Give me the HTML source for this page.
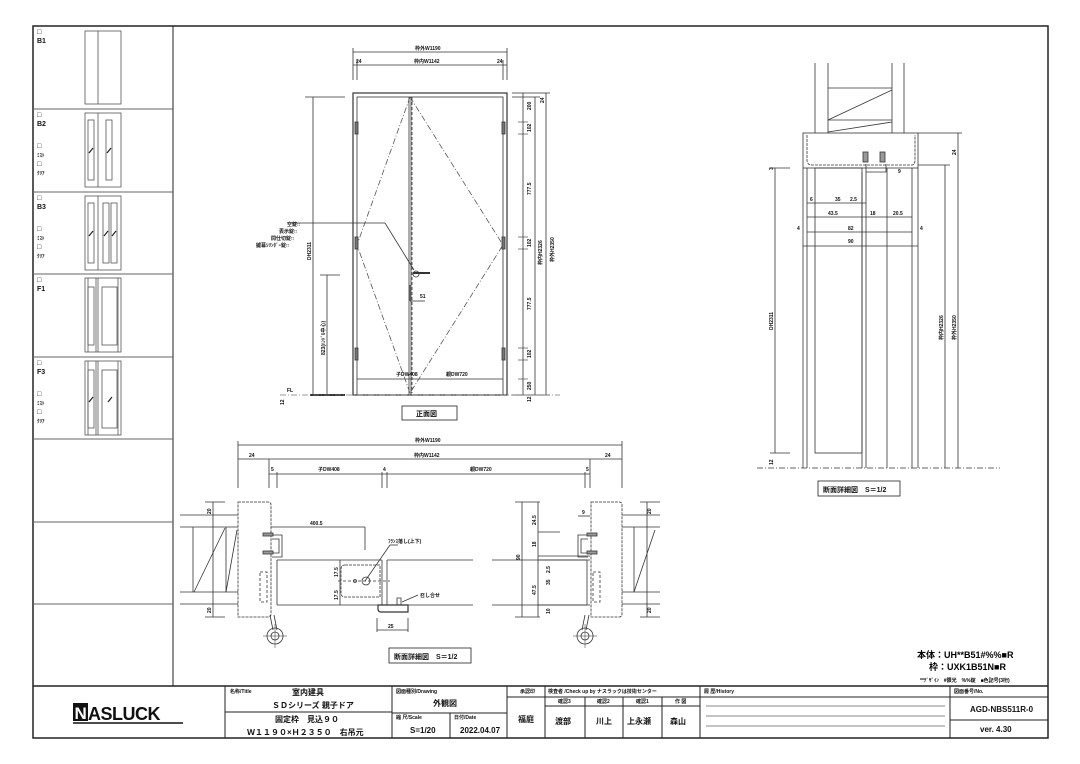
<!DOCTYPE html>
<html><head><meta charset="utf-8"><style>
html,body{margin:0;padding:0;background:#fff;}
svg{display:block;font-family:"Liberation Sans","Noto Sans CJK JP",sans-serif;}
.t{font-size:7px;fill:#111;font-weight:bold;}
.s{font-size:5px;fill:#111;font-weight:bold;}
</style></head><body>
<svg width="1080" height="764" viewBox="0 0 1080 764" xmlns="http://www.w3.org/2000/svg">
<rect width="1080" height="764" fill="#fff"/>
<g fill="none" stroke="#222">
<rect x="33" y="26" width="1015" height="712" stroke-width="1.5"/>
<line x1="173" y1="26" x2="173" y2="686"/>
<line x1="33" y1="686" x2="1048" y2="686" stroke-width="1.5"/>
<g stroke="#666">
<line x1="33" y1="109" x2="173" y2="109"/><line x1="33" y1="192" x2="173" y2="192"/>
<line x1="33" y1="274" x2="173" y2="274"/><line x1="33" y1="357" x2="173" y2="357"/>
<line x1="33" y1="439" x2="173" y2="439"/><line x1="33" y1="522" x2="173" y2="522"/>
<line x1="33" y1="604" x2="173" y2="604"/>
</g>
<line x1="225" y1="686" x2="225" y2="738"/>
<line x1="392" y1="686" x2="392" y2="738"/>
<line x1="507" y1="686" x2="507" y2="738"/>
<line x1="545" y1="686" x2="545" y2="738"/>
<line x1="700" y1="686" x2="700" y2="738"/>
<line x1="950" y1="686" x2="950" y2="738"/>
<line x1="225" y1="712" x2="392" y2="712"/>
<line x1="392" y1="713" x2="507" y2="713"/>
<line x1="450" y1="713" x2="450" y2="738"/>
<line x1="507" y1="697" x2="545" y2="697"/>
<line x1="545" y1="697" x2="700" y2="697"/>
<line x1="545" y1="706" x2="700" y2="706"/>
<line x1="585" y1="697" x2="585" y2="738"/><line x1="623" y1="697" x2="623" y2="738"/><line x1="662" y1="697" x2="662" y2="738"/>
<line x1="700" y1="697" x2="950" y2="697"/>
<line x1="706" y1="706" x2="945" y2="706" stroke="#888"/><line x1="706" y1="716" x2="945" y2="716" stroke="#888"/><line x1="706" y1="726" x2="945" y2="726" stroke="#888"/>
<line x1="950" y1="697" x2="1048" y2="697"/><line x1="950" y1="720" x2="1048" y2="720"/>
</g>
<g fill="none" stroke="#555" stroke-width="0.8">
<rect x="85" y="31" width="36" height="73"/><line x1="98" y1="31" x2="98" y2="104"/>
<rect x="85" y="113" width="36" height="74"/><line x1="98" y1="113" x2="98" y2="187"/>
<rect x="88" y="120" width="6" height="60"/><rect x="106" y="120" width="6" height="60"/>
<rect x="85" y="196" width="36" height="74"/><line x1="98" y1="196" x2="98" y2="270"/>
<rect x="88" y="203" width="6" height="60"/><rect x="103" y="203" width="6" height="60"/><rect x="111" y="203" width="6" height="60"/>
<rect x="85" y="278" width="36" height="74"/><line x1="98" y1="278" x2="98" y2="352"/><line x1="96" y1="278" x2="96" y2="352"/><line x1="88" y1="278" x2="88" y2="352"/><line x1="118" y1="278" x2="118" y2="352"/>
<rect x="88" y="287" width="6" height="58"/><rect x="102" y="287" width="15" height="58"/>
<rect x="85" y="361" width="36" height="74"/><line x1="98" y1="361" x2="98" y2="435"/><line x1="96" y1="361" x2="96" y2="435"/><line x1="88" y1="361" x2="88" y2="435"/><line x1="118" y1="361" x2="118" y2="435"/>
<rect x="88" y="370" width="6" height="58"/><rect x="102" y="370" width="15" height="58"/>
</g>
<g stroke="#222" stroke-width="1.2">
<line x1="89" y1="153" x2="93" y2="148"/><line x1="107" y1="153" x2="111" y2="148"/>
<line x1="89" y1="236" x2="93" y2="231"/><line x1="104" y1="236" x2="108" y2="231"/><line x1="112" y1="236" x2="116" y2="231"/>
<line x1="89" y1="402" x2="93" y2="397"/><line x1="108" y1="402" x2="112" y2="397"/>
</g>
<g class="t">
<text x="37" y="34">□</text><text x="37" y="43">B1</text>
<text x="37" y="117">□</text><text x="37" y="126">B2</text><text x="37" y="148">□</text><text x="37" y="157" class="s">ﾐｽﾄ</text><text x="37" y="166">□</text><text x="37" y="175" class="s">ｸﾘｱ</text>
<text x="37" y="200">□</text><text x="37" y="209">B3</text><text x="37" y="231">□</text><text x="37" y="240" class="s">ﾐｽﾄ</text><text x="37" y="249">□</text><text x="37" y="258" class="s">ｸﾘｱ</text>
<text x="37" y="282">□</text><text x="37" y="291">F1</text>
<text x="37" y="365">□</text><text x="37" y="374">F3</text><text x="37" y="396">□</text><text x="37" y="405" class="s">ﾐｽﾄ</text><text x="37" y="414">□</text><text x="37" y="423" class="s">ｸﾘｱ</text>
</g>

<g fill="none" stroke="#333" stroke-width="0.8">
<rect x="353" y="93" width="154" height="302" stroke-width="1.2"/>
<rect x="357" y="97" width="146" height="298"/>
<line x1="409" y1="97" x2="409" y2="395"/><line x1="411" y1="97" x2="411" y2="395"/>
<line x1="357" y1="379" x2="503" y2="379"/>
<g stroke-dasharray="6,2,1,2" stroke="#555"><path d="M410 97 L357 245 L410 393 M410 97 L503 245 L410 393"/></g>
<line x1="412" y1="97" x2="412" y2="393" stroke-dasharray="3,2"/>
<rect x="355" y="122" width="3" height="12" fill="#777"/><rect x="355" y="237" width="3" height="12" fill="#777"/><rect x="355" y="348" width="3" height="12" fill="#777"/>
<rect x="502" y="122" width="3" height="12" fill="#777"/><rect x="502" y="237" width="3" height="12" fill="#777"/><rect x="502" y="348" width="3" height="12" fill="#777"/>
<path d="M413 273 L430 273" stroke-width="2"/>
<circle cx="416" cy="274" r="3"/>
<polyline points="292,223 385,223 414,270"/>
<line x1="353" y1="52" x2="507" y2="52"/><line x1="353" y1="65" x2="507" y2="65"/>
<line x1="353" y1="48" x2="353" y2="80"/><line x1="357" y1="60" x2="357" y2="80"/><line x1="503" y1="60" x2="503" y2="80"/><line x1="507" y1="48" x2="507" y2="80"/>
<line x1="523" y1="93" x2="523" y2="395"/><line x1="535" y1="97" x2="535" y2="395"/><line x1="546" y1="93" x2="546" y2="395"/>
<line x1="512" y1="93" x2="550" y2="93"/><line x1="512" y1="97" x2="540" y2="97"/><line x1="512" y1="395" x2="550" y2="395"/>
<g stroke-width="0.6"><line x1="518" y1="122" x2="528" y2="122"/><line x1="518" y1="134" x2="528" y2="134"/><line x1="518" y1="237" x2="528" y2="237"/><line x1="518" y1="249" x2="528" y2="249"/><line x1="518" y1="348" x2="528" y2="348"/><line x1="518" y1="360" x2="528" y2="360"/><line x1="518" y1="379" x2="528" y2="379"/></g>
<line x1="313" y1="97" x2="313" y2="395"/><line x1="305" y1="97" x2="345" y2="97"/>
<line x1="327" y1="275" x2="327" y2="395"/><line x1="320" y1="275" x2="340" y2="275"/>
<line x1="310" y1="395" x2="345" y2="395" stroke-width="2"/>
<line x1="280" y1="395" x2="560" y2="395" stroke-dasharray="6,2,1,2" stroke="#777"/>
<line x1="410" y1="301" x2="425" y2="301"/><line x1="410" y1="285" x2="410" y2="301"/>
<rect x="402" y="406" width="55" height="14" stroke="#222"/>
</g>
<g class="s">
<text x="415" y="50">枠外W1190</text><text x="414" y="63">枠内W1142</text>
<text x="356" y="63">24</text><text x="497" y="63">24</text>
<text x="396" y="376">子DW408</text><text x="446" y="376">親DW720</text>
<text x="420" y="298">51</text>
<text x="287" y="226">空錠□</text><text x="279" y="233">表示錠□</text><text x="271" y="240">間仕切錠□</text><text x="256" y="247">鍵幕ｼﾘﾝﾀﾞｰ錠□</text>
<text class="t" x="416" y="416">正面図</text>
<text transform="translate(311,260) rotate(-90)">DH2311</text>
<text transform="translate(325,355) rotate(-90)">823(ﾊﾝﾄﾞﾙ中心)</text>
<text transform="translate(284,405) rotate(-90)">12</text>
<text transform="translate(531,110) rotate(-90)">200</text><text transform="translate(544,103) rotate(-90)">24</text>
<text transform="translate(531,132) rotate(-90)">102</text><text transform="translate(531,195) rotate(-90)">777.5</text>
<text transform="translate(531,247) rotate(-90)">102</text><text transform="translate(531,310) rotate(-90)">777.5</text>
<text transform="translate(531,358) rotate(-90)">102</text><text transform="translate(531,390) rotate(-90)">250</text>
<text transform="translate(542,265) rotate(-90)">枠内H2326</text><text transform="translate(554,262) rotate(-90)">枠外H2350</text>
<text transform="translate(531,402) rotate(-90)">12</text>
<text x="287" y="392">FL</text>
</g>

<g fill="none" stroke="#333" stroke-width="0.8">
<line x1="238" y1="445" x2="622" y2="445"/><line x1="238" y1="459" x2="622" y2="459"/><line x1="269" y1="474" x2="590" y2="474"/>
<line x1="238" y1="441" x2="238" y2="488"/><line x1="622" y1="441" x2="622" y2="488"/><line x1="269" y1="459" x2="269" y2="488"/><line x1="590" y1="459" x2="590" y2="488"/>
<line x1="277" y1="472" x2="277" y2="488"/><line x1="382" y1="472" x2="382" y2="488"/><line x1="387" y1="472" x2="387" y2="488"/><line x1="585" y1="472" x2="585" y2="488"/>
<path d="M238 502 H268 Q271 502 271 505 V614 Q271 617 268 617 H238 Z" stroke-dasharray="3,1"/>
<path d="M591 502 H619 Q622 502 622 505 V614 Q622 617 619 617 H591 Z" stroke-dasharray="3,1"/>
<line x1="180" y1="515" x2="238" y2="515"/><line x1="180" y1="527" x2="238" y2="527"/><line x1="180" y1="592" x2="238" y2="592"/><line x1="180" y1="604" x2="238" y2="604"/>
<line x1="193" y1="527" x2="193" y2="592"/><line x1="226" y1="527" x2="226" y2="592"/><line x1="194" y1="592" x2="225" y2="528"/><line x1="226" y1="592" x2="237" y2="530"/>
<line x1="622" y1="515" x2="660" y2="515"/><line x1="622" y1="527" x2="660" y2="527"/><line x1="622" y1="592" x2="660" y2="592"/><line x1="622" y1="604" x2="660" y2="604"/>
<line x1="634" y1="527" x2="634" y2="592"/><line x1="634" y1="592" x2="655" y2="530"/>
<line x1="213" y1="502" x2="213" y2="617"/><line x1="205" y1="502" x2="225" y2="502"/><line x1="205" y1="617" x2="225" y2="617"/>
<line x1="647" y1="502" x2="647" y2="617"/><line x1="640" y1="502" x2="660" y2="502"/><line x1="640" y1="617" x2="660" y2="617"/>
<line x1="277" y1="560" x2="382" y2="560"/><line x1="277" y1="605" x2="382" y2="605"/><line x1="277" y1="560" x2="277" y2="605"/><line x1="382" y1="560" x2="382" y2="605"/>
<line x1="387" y1="560" x2="473" y2="560"/><line x1="387" y1="605" x2="473" y2="605"/><line x1="387" y1="560" x2="387" y2="605"/>
<line x1="492" y1="560" x2="587" y2="560"/><line x1="492" y1="605" x2="587" y2="605"/><line x1="587" y1="560" x2="587" y2="605"/>
<path d="M272 535 H282 V557 H272 M272 539 H279 V553 H272" />
<path d="M588 535 H578 V557 H588 M588 539 H581 V553 H588"/>
<rect x="263" y="533" width="10" height="3" fill="#999"/><rect x="263" y="551" width="10" height="3" fill="#999"/>
<rect x="587" y="533" width="10" height="3" fill="#999"/><rect x="587" y="551" width="10" height="3" fill="#999"/>
<path d="M345 565 H380 V597 H345 Q341 597 341 593 V569 Q341 565 345 565 Z" stroke-dasharray="3,1"/>
<circle cx="366" cy="581" r="4"/><circle cx="355" cy="581" r="1.5"/>
<line x1="338" y1="581" x2="390" y2="581" stroke-dasharray="3,2"/>
<path d="M378 605 H408 V612 H381 Q378 612 378 609 Z" stroke-width="1.2"/>
<path d="M397 605 V598 H401 V605" />
<g stroke-dasharray="3,2"><rect x="260" y="572" width="7" height="30"/><rect x="593" y="572" width="7" height="30"/></g>
<line x1="270" y1="615" x2="273" y2="630"/><line x1="274" y1="615" x2="277" y2="630"/>
<line x1="589" y1="615" x2="586" y2="630"/><line x1="585" y1="615" x2="582" y2="630"/>
<circle cx="275" cy="636" r="8"/><circle cx="275" cy="636" r="4"/><line x1="263" y1="636" x2="287" y2="636" stroke-width="0.5"/><line x1="275" y1="624" x2="275" y2="648" stroke-width="0.5"/>
<circle cx="585" cy="636" r="8"/><circle cx="585" cy="636" r="4"/><line x1="573" y1="636" x2="597" y2="636" stroke-width="0.5"/><line x1="585" y1="624" x2="585" y2="648" stroke-width="0.5"/>
<line x1="271" y1="527" x2="365" y2="527"/><line x1="365" y1="527" x2="365" y2="550"/>
<line x1="340" y1="560" x2="340" y2="605"/>
<line x1="377" y1="630" x2="408" y2="630"/><line x1="377" y1="618" x2="377" y2="632"/><line x1="408" y1="618" x2="408" y2="632"/>
<line x1="365" y1="581" x2="390" y2="545"/><line x1="390" y1="545" x2="398" y2="545"/>
<line x1="402" y1="602" x2="418" y2="595"/>
<line x1="522" y1="502" x2="522" y2="617"/><line x1="515" y1="502" x2="540" y2="502"/><line x1="515" y1="617" x2="540" y2="617"/>
<line x1="538" y1="502" x2="538" y2="617"/>
<line x1="538" y1="532" x2="560" y2="532"/><line x1="538" y1="556" x2="590" y2="556"/><line x1="538" y1="560" x2="590" y2="560"/><line x1="538" y1="605" x2="590" y2="605"/>
<line x1="578" y1="516" x2="590" y2="516"/>
<rect x="389" y="648" width="82" height="15" stroke="#222"/>
</g>
<g class="s">
<text x="415" y="442">枠外W1190</text><text x="414" y="457">枠内W1142</text>
<text x="249" y="457">24</text><text x="605" y="457">24</text>
<text x="271" y="471">5</text><text x="318" y="471">子DW408</text><text x="383" y="471">4</text><text x="470" y="471">親DW720</text><text x="586" y="471">5</text>
<text x="310" y="525">400.5</text><text x="388" y="543">ﾌﾗﾝｽ落し(上下)</text><text x="420" y="597">召し合せ</text>
<text x="388" y="628">25</text>
<text transform="translate(211,514) rotate(-90)">20</text><text transform="translate(211,613) rotate(-90)">20</text>
<text transform="translate(651,514) rotate(-90)">20</text><text transform="translate(651,613) rotate(-90)">20</text>
<text transform="translate(338,577) rotate(-90)">17.5</text><text transform="translate(338,600) rotate(-90)">17.5</text>
<text transform="translate(520,560) rotate(-90)">90</text>
<text transform="translate(536,525) rotate(-90)">24.5</text><text transform="translate(536,547) rotate(-90)">18</text><text transform="translate(536,595) rotate(-90)">47.5</text>
<text transform="translate(550,573) rotate(-90)">2.5</text><text transform="translate(550,585) rotate(-90)">35</text><text transform="translate(550,614) rotate(-90)">10</text>
<text x="582" y="514">9</text>
<text class="t" x="394" y="659">断面詳細図　S＝1/2</text>
</g>

<g fill="none" stroke="#333" stroke-width="0.8">
<line x1="815" y1="63" x2="815" y2="133"/><line x1="828" y1="63" x2="828" y2="133"/><line x1="892" y1="63" x2="892" y2="133"/><line x1="904" y1="63" x2="904" y2="133"/>
<line x1="828" y1="88" x2="892" y2="88"/><line x1="828" y1="120" x2="892" y2="120"/><line x1="828" y1="120" x2="892" y2="90"/><line x1="828" y1="132" x2="892" y2="122"/>
<rect x="803" y="133" width="115" height="35"/>
<path d="M807 135 V160 Q807 165 812 165 H912 Q915 165 915 160 V135" stroke-dasharray="3,1"/>
<rect x="863" y="152" width="5" height="10" fill="#999"/><rect x="880" y="152" width="5" height="10" fill="#999"/>
<path d="M866 164 V172 H886 V164"/>
<rect x="815" y="168" width="47" height="285"/>
<line x1="807" y1="168" x2="807" y2="468"/><line x1="866" y1="172" x2="866" y2="468"/><line x1="887" y1="168" x2="887" y2="468"/><line x1="912" y1="168" x2="912" y2="468"/><line x1="862" y1="172" x2="862" y2="468"/><line x1="803" y1="168" x2="803" y2="468"/><line x1="918" y1="168" x2="918" y2="468"/>
<line x1="757" y1="468" x2="1000" y2="468" stroke-dasharray="6,2,1,2"/>
<line x1="775" y1="168" x2="775" y2="453"/><line x1="770" y1="168" x2="790" y2="168"/><line x1="770" y1="453" x2="790" y2="453"/>
<line x1="945" y1="165" x2="945" y2="468"/><line x1="958" y1="133" x2="958" y2="468"/>
<line x1="918" y1="133" x2="962" y2="133"/><line x1="918" y1="165" x2="950" y2="165"/>
<line x1="807" y1="203" x2="866" y2="203"/><line x1="807" y1="217" x2="912" y2="217"/><line x1="807" y1="232" x2="912" y2="232"/><line x1="803" y1="246" x2="918" y2="246"/>
<rect x="818" y="481" width="82" height="15" stroke="#222"/>
</g>
<g class="s">
<text x="810" y="201">6</text><text x="835" y="201">35</text><text x="850" y="201">2.5</text>
<text x="828" y="215">43.5</text><text x="870" y="215">18</text><text x="893" y="215">20.5</text>
<text x="797" y="230">4</text><text x="848" y="230">82</text><text x="920" y="230">4</text><text x="848" y="243">90</text>
<text transform="translate(956,155) rotate(-90)">24</text>
<text transform="translate(773,330) rotate(-90)">DH2311</text>
<text transform="translate(943,340) rotate(-90)">枠内H2326</text><text transform="translate(956,340) rotate(-90)">枠外H2350</text>
<text transform="translate(773,465) rotate(-90)">12</text><text transform="translate(773,170) rotate(-90)">3</text>
<text x="898" y="173">9</text>
<text class="t" x="823" y="492">断面詳細図　S＝1/2</text>
</g>

<text x="917" y="658" style="font-size:9px;font-weight:bold">本体：UH**B51#%%■R</text>
<text x="929" y="670" style="font-size:9px;font-weight:bold">枠：UXK1B51N■R</text>
<text x="920" y="682" style="font-size:5px;font-weight:bold">**ﾃﾞｻﾞｲﾝ　#限光　%%錠　■色記号(3桁)</text>

<!-- logo -->
<rect x="73" y="703" width="15" height="18" fill="#111"/>
<text x="74.5" y="719" style="font-size:17px;font-weight:bold" fill="#fff">N</text>
<text x="88" y="720" style="font-size:18px;font-weight:bold;letter-spacing:-0.5px" fill="#111">ASLUCK</text>
<line x1="73" y1="723" x2="183" y2="723" stroke="#111" stroke-width="1.5"/>
<g class="s">
<text x="230" y="693">名称/Title</text><text x="396" y="693">図面種別/Drawing</text><text x="520" y="693">承認印</text>
<text x="548" y="693">検査者 /Check up by ナスラックは技術センター</text><text x="704" y="693">履 歴/History</text><text x="954" y="693">図面番号/No.</text>
<text x="396" y="719">縮 尺/Scale</text><text x="454" y="719">日付/Date</text>
<text x="558" y="703">確認3</text><text x="597" y="703">確認2</text><text x="636" y="703">確認1</text><text x="675" y="703">作 図</text>
</g>
<g style="font-size:8px;font-weight:bold" fill="#111">
<text x="292" y="695">室内建具</text><text x="272" y="708">ＳＤシリーズ 親子ドア</text>
<text x="275" y="722">固定枠　見込９０</text><text x="247" y="735">Ｗ１１９０×Ｈ２３５０　右吊元</text>
<text x="433" y="706">外観図</text><text x="410" y="733">S=1/20</text><text x="460" y="733">2022.04.07</text>
<text x="518" y="722">福庭</text><text x="555" y="724">渡部</text><text x="596" y="724">川上</text><text x="627" y="724">上永瀬</text><text x="670" y="724">森山</text>
<text x="970" y="712">AGD-NBS511R-0</text><text x="980" y="732">ver. 4.30</text>
</g>
</svg>
</body></html>
